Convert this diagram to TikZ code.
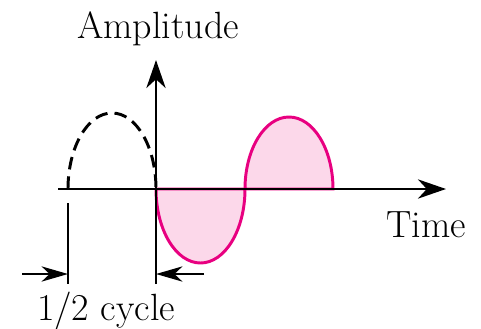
\documentclass[tikz,border=0pt]{standalone}
\usetikzlibrary{arrows.meta}
\definecolor{wavepink}{RGB}{232,0,128}
\definecolor{wavefill}{RGB}{252,216,234}

\begin{document}
\begin{tikzpicture}[x=0.25mm, y=-0.25mm,
    axis/.style={line width=2.1pt, -{Stealth[length=7mm, width=4.8mm, inset=2.2mm]}},
    guide/.style={line width=2.1pt},
    measure/.style={line width=1.5pt, -{Stealth[length=6.6mm, width=3.8mm, inset=2mm]}},
    wave/.style={line width=2.1pt, draw=wavepink, fill=wavefill},
    ghost/.style={line width=2.1pt, dashed, dash pattern=on 9pt off 5pt},
    label/.style={font=\fontsize{27}{32}\selectfont, anchor=base}
]
\useasboundingbox (0,0) rectangle (481,328);

% ====================== AXES ======================
\coordinate (origin) at (156,189);
\coordinate (timeL)  at (58,189);
\coordinate (timeR)  at (446,189);
\coordinate (ampB)   at (156,284);
\coordinate (ampT)   at (156,60);

% ====================== WAVES ======================
\draw[wave] (origin) arc (180:0:44.5 and 74) -- cycle;
\draw[wave] (245,189) arc (180:360:44 and 72) -- cycle;
\draw[ghost] (68,189) arc (180:360:44 and 76);

\draw[axis] (timeL) -- (timeR);
\draw[axis] (ampB) -- (ampT);

% ====================== HALF CYCLE ======================
\coordinate (guideT) at (68,203);
\coordinate (guideB) at (68,284);
\coordinate (arrowL) at (22,274);
\coordinate (arrowR) at (204,274);
\draw[guide] (guideT) -- (guideB);
\draw[measure] (arrowL) -- (arrowL -| guideB);
\draw[measure] (arrowR) -- (arrowR -| ampB);

% ====================== LABELS ======================
\node[label] (amp)   at (158,38)  {Amplitude};
\node[label] (time)  at (426,237) {Time};
\node[label] (cycle) at (106,320) {1/2 cycle};

\end{tikzpicture}
\end{document}
